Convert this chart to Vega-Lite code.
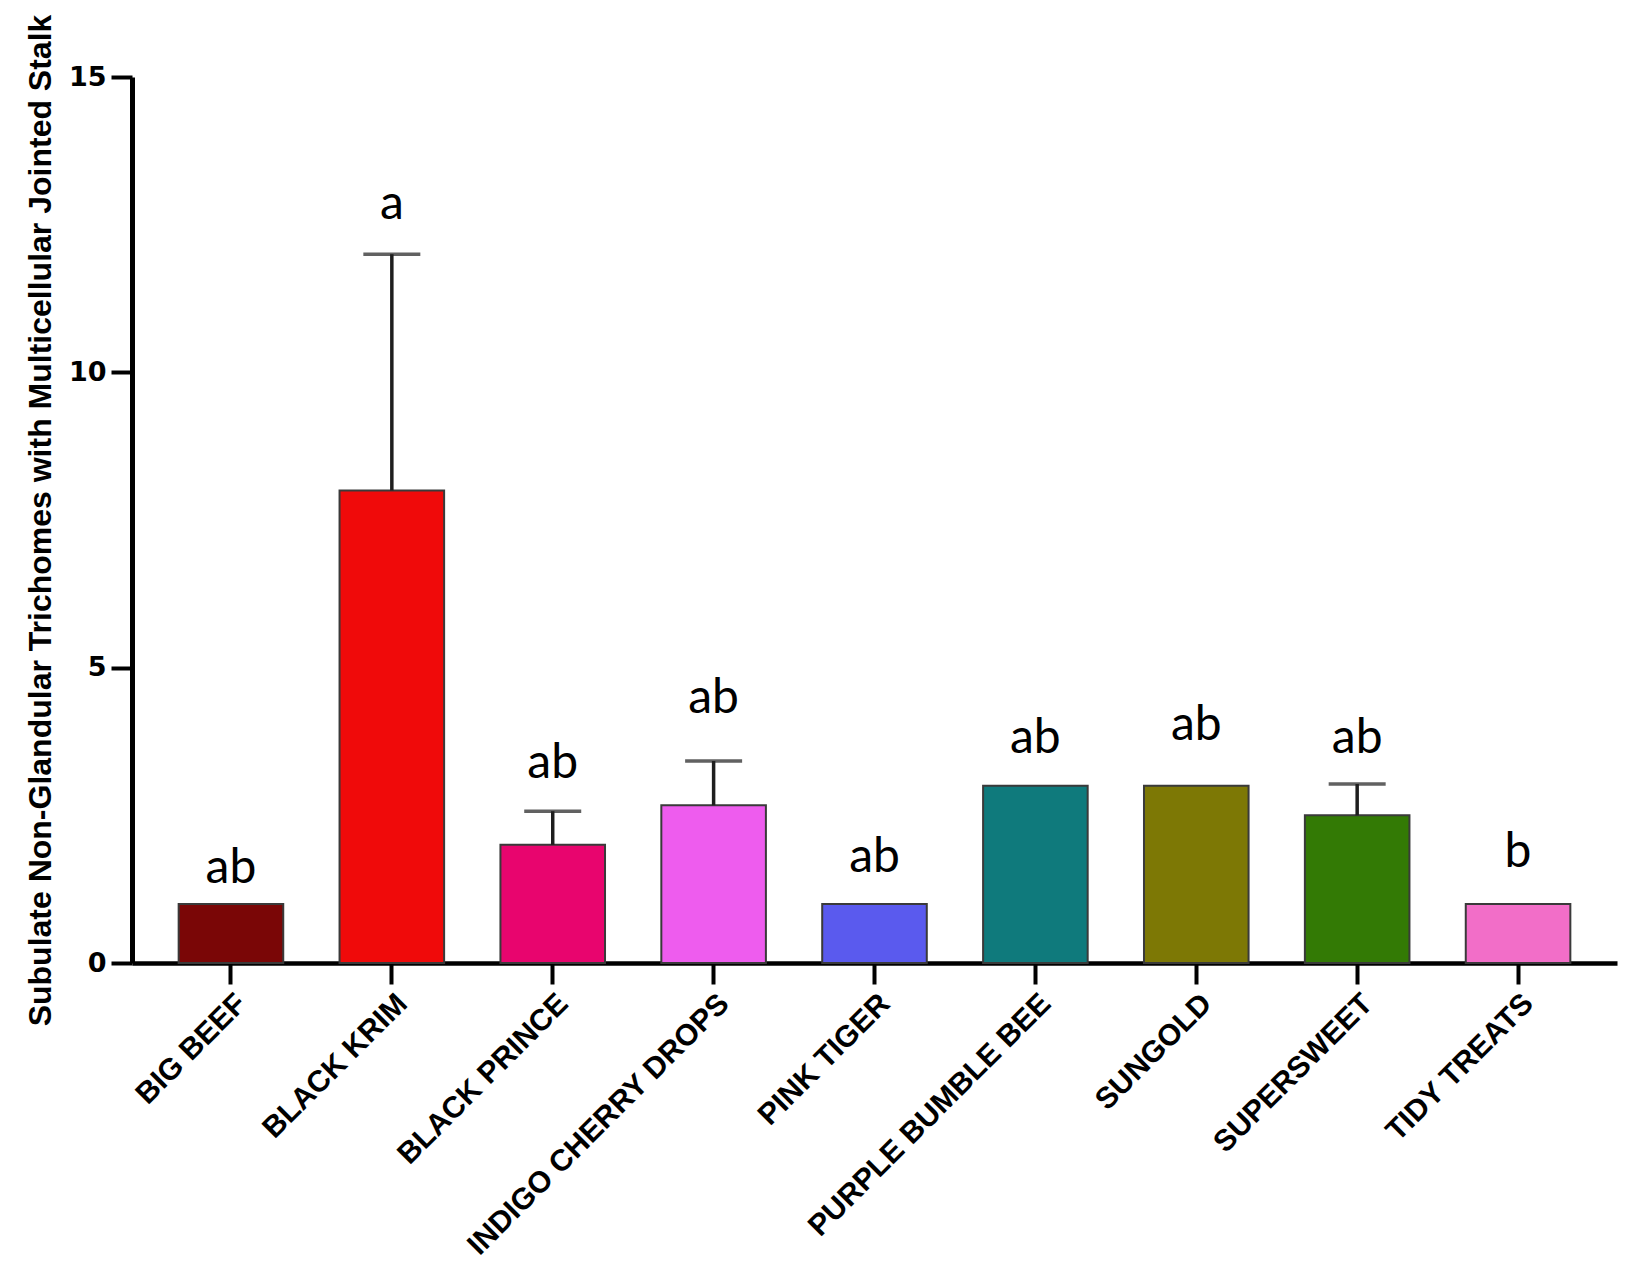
{
  "$schema": "https://vega.github.io/schema/vega-lite/v6.json",
  "width": 1485,
  "height": 886,
  "autosize": "none",
  "padding": {"left": 132, "top": 77, "right": 35, "bottom": 303},
  "background": "white",
  "config": {"view": {"stroke": null}},
  "data": {
    "values": [
      {"variety": "BIG BEEF", "mean": 1, "upper": null, "letter": "ab", "label_y": 1.36},
      {"variety": "BLACK KRIM", "mean": 8, "upper": 12, "letter": "a", "label_y": 12.6},
      {"variety": "BLACK PRINCE", "mean": 2, "upper": 2.57, "letter": "ab", "label_y": 3.14},
      {"variety": "INDIGO CHERRY DROPS", "mean": 2.67, "upper": 3.42, "letter": "ab", "label_y": 4.23},
      {"variety": "PINK TIGER", "mean": 1, "upper": null, "letter": "ab", "label_y": 1.54},
      {"variety": "PURPLE BUMBLE BEE", "mean": 3, "upper": null, "letter": "ab", "label_y": 3.55},
      {"variety": "SUNGOLD", "mean": 3, "upper": null, "letter": "ab", "label_y": 3.78},
      {"variety": "SUPERSWEET", "mean": 2.5, "upper": 3.03, "letter": "ab", "label_y": 3.55},
      {"variety": "TIDY TREATS", "mean": 1, "upper": null, "letter": "b", "label_y": 1.62}
    ]
  },
  "encoding": {
    "x": {
      "field": "variety",
      "type": "nominal",
      "sort": null,
      "scale": {"paddingInner": 0.35, "paddingOuter": 0.29},
      "axis": {
        "title": null,
        "labelAngle": -45,
        "labelFont": "Liberation Sans",
        "labelFontWeight": "bold",
        "labelFontSize": 30,
        "labelLimit": 0,
        "labelColor": "black",
        "labelPadding": 4,
        "tickSize": 21,
        "tickWidth": 4,
        "tickColor": "black",
        "domainWidth": 4.5,
        "domainColor": "black"
      }
    }
  },
  "layer": [
    {
      "mark": {"type": "bar", "stroke": "#3a3a3a", "strokeWidth": 2, "opacity": 1},
      "encoding": {
        "y": {
          "field": "mean",
          "type": "quantitative",
          "scale": {"domain": [0, 15], "nice": false, "zero": true},
          "axis": {
            "values": [0, 5, 10, 15],
            "format": "d",
            "grid": false,
            "labelFont": "DejaVu Sans",
            "labelFontWeight": "bold",
            "labelFontSize": 27,
            "labelColor": "black",
            "labelPadding": 5,
            "tickSize": 21,
            "tickWidth": 4,
            "tickColor": "black",
            "domainWidth": 5,
            "domainColor": "black",
            "title": "Subulate Non-Glandular Trichomes with Multicellular Jointed Stalk",
            "titleFont": "Liberation Sans",
            "titleFontWeight": "bold",
            "titleFontSize": 32,
            "titleColor": "black",
            "titleAngle": 270,
            "titleAlign": "center",
            "titleBaseline": "middle",
            "titleX": -92,
            "titleY": 443
          }
        },
        "fill": {
          "field": "variety",
          "type": "nominal",
          "sort": null,
          "legend": null,
          "scale": {
            "domain": ["BIG BEEF", "BLACK KRIM", "BLACK PRINCE", "INDIGO CHERRY DROPS", "PINK TIGER", "PURPLE BUMBLE BEE", "SUNGOLD", "SUPERSWEET", "TIDY TREATS"],
            "range": ["#7a0606", "#f00a0a", "#e8056e", "#ee5cee", "#5a5aee", "#0f7a7c", "#7d7805", "#337a05", "#f26ec8"]
          }
        }
      }
    },
    {
      "transform": [{"filter": "datum.upper != null"}],
      "mark": {"type": "rule", "color": "#1e1e1e", "strokeWidth": 3.5},
      "encoding": {
        "y": {"field": "mean", "type": "quantitative"},
        "y2": {"field": "upper"}
      }
    },
    {
      "transform": [{"filter": "datum.upper != null"}],
      "mark": {"type": "tick", "color": "#1e1e1e", "thickness": 3.5, "size": 57, "orient": "horizontal"},
      "encoding": {
        "y": {"field": "upper", "type": "quantitative"}
      }
    },
    {
      "mark": {"type": "text", "font": "Lato", "fontSize": 48, "baseline": "alphabetic", "align": "center", "color": "black"},
      "encoding": {
        "y": {"field": "label_y", "type": "quantitative"},
        "text": {"field": "letter"}
      }
    }
  ]
}
